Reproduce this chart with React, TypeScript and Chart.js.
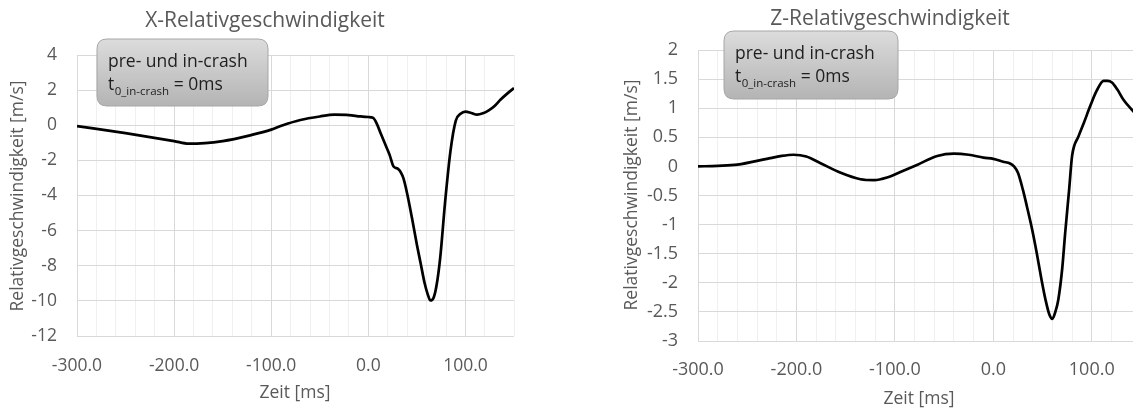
import React, { useEffect, useRef } from "react";
import { Chart, registerables } from "chart.js";

Chart.register(...registerables);

// ---------- data ----------
const xTimes = [-300, -250, -200, -185, -150, -120, -100, -88, -70, -50, -35, -20, -8, 0, 5, 9, 13, 17.5, 22, 26, 31, 36, 40, 45, 50, 54, 58, 61, 64, 67, 70, 74, 79, 84.5, 90, 95, 100, 106, 112, 118, 124, 130, 136, 143, 150];
const xValues = [-0.05, -0.45, -0.9, -1.05, -0.9, -0.55, -0.25, 0, 0.3, 0.5, 0.6, 0.58, 0.5, 0.47, 0.42, 0.05, -0.5, -1.1, -1.7, -2.35, -2.5, -3.0, -3.9, -5.3, -6.8, -7.9, -9.0, -9.6, -9.98, -9.85, -9.2, -7.55, -4.4, -1.5, 0.25, 0.65, 0.78, 0.7, 0.6, 0.68, 0.85, 1.1, 1.45, 1.8, 2.12];

const zTimes = [-300, -280, -260, -230, -215, -203, -190, -176, -155, -135, -121, -108, -95, -77, -57, -40, -25, -10, 0, 10, 17, 21, 25, 30, 34, 39, 44, 49, 53, 57, 60, 63, 66, 70, 73, 77, 80, 86.6, 92, 98.5, 105, 112, 116, 120.5, 126, 132, 142, 150];
const zValues = [0, 0.01, 0.03, 0.13, 0.18, 0.2, 0.17, 0.06, -0.11, -0.22, -0.235, -0.19, -0.1, 0.03, 0.18, 0.22, 0.2, 0.15, 0.13, 0.08, 0.05, 0, -0.11, -0.4, -0.68, -1.05, -1.48, -1.95, -2.29, -2.55, -2.62, -2.5, -2.29, -1.75, -1.14, -0.4, 0.18, 0.52, 0.75, 1.04, 1.3, 1.47, 1.47, 1.44, 1.32, 1.15, 0.95, 0.8];

const xTitle = "X-Relativgeschwindigkeit";
const zTitle = "Z-Relativgeschwindigkeit";
const yAxisTitle = "Relativgeschwindigkeit [m/s]";
const xAxisTitle = "Zeit [ms]";
const boxLine1 = "pre- und in-crash";
const boxSub = "0_in-crash";
const boxLine2 = " = 0ms";

const FONT = "'Open Sans', 'Noto Sans', sans-serif";
const TEXT = "#595959";
const MAJOR = "#d9d9d9";
const MINOR = "#f0f0f0";

type Deco = {
  title: { x: number; y: number; size: number };
  yTitle: { x: number; y: number };
  xTitle: { x: number; y: number };
  box: { x: number; y: number; w: number; h: number };
  chartTitle: string;
};

function decoPlugin(d: Deco) {
  return {
    id: "deco",
    afterDraw(chart: any) {
      const ctx = chart.ctx as CanvasRenderingContext2D;
      ctx.save();
      // chart title
      ctx.fillStyle = TEXT;
      ctx.textAlign = "center";
      ctx.textBaseline = "alphabetic";
      ctx.font = `${d.title.size}px ${FONT}`;
      ctx.fillText(d.chartTitle, d.title.x, d.title.y);
      // x axis title
      ctx.font = `17.5px ${FONT}`;
      ctx.fillText(xAxisTitle, d.xTitle.x, d.xTitle.y);
      // y axis title
      ctx.save();
      ctx.translate(d.yTitle.x, d.yTitle.y);
      ctx.rotate(-Math.PI / 2);
      ctx.fillText(yAxisTitle, 0, 0);
      ctx.restore();
      // annotation box
      const { x, y, w, h } = d.box;
      const r = 10;
      const g = ctx.createLinearGradient(0, y, 0, y + h);
      g.addColorStop(0, "#dcdcdc");
      g.addColorStop(1, "#b4b4b4");
      ctx.beginPath();
      ctx.moveTo(x + r, y);
      ctx.lineTo(x + w - r, y);
      ctx.quadraticCurveTo(x + w, y, x + w, y + r);
      ctx.lineTo(x + w, y + h - r);
      ctx.quadraticCurveTo(x + w, y + h, x + w - r, y + h);
      ctx.lineTo(x + r, y + h);
      ctx.quadraticCurveTo(x, y + h, x, y + h - r);
      ctx.lineTo(x, y + r);
      ctx.quadraticCurveTo(x, y, x + r, y);
      ctx.closePath();
      ctx.fillStyle = g;
      ctx.fill();
      ctx.strokeStyle = "#a6a6a6";
      ctx.lineWidth = 1;
      ctx.stroke();
      ctx.fillStyle = "#1e1e1e";
      ctx.textAlign = "left";
      ctx.font = `17.5px ${FONT}`;
      ctx.fillText(boxLine1, x + 11, y + 28);
      ctx.fillText("t", x + 11, y + 51);
      const tw = ctx.measureText("t").width;
      ctx.font = `11.5px ${FONT}`;
      ctx.fillText(boxSub, x + 11 + tw + 0.5, y + 56);
      const sw = ctx.measureText(boxSub).width;
      ctx.font = `17.5px ${FONT}`;
      ctx.fillText(boxLine2, x + 11 + tw + 0.5 + sw, y + 51);
      ctx.restore();
    },
  };
}

function makeConfig(
  times: number[],
  values: number[],
  yMin: number,
  yMax: number,
  yStep: number,
  yWidth: number,
  xHeight: number,
  pad: { top: number; right: number },
  tickSize: number,
  xTickPad: number,
  deco: Deco
): any {
  return {
    type: "line",
    data: {
      datasets: [
        {
          data: times.map((t, i) => ({ x: t, y: values[i] })),
          borderColor: "#000000",
          borderWidth: 2.7,
          pointRadius: 0,
          cubicInterpolationMode: "monotone",
          fill: false,
        },
      ],
    },
    options: {
      responsive: false,
      animation: false,
      layout: { padding: { top: pad.top, right: pad.right, left: 0, bottom: 0 } },
      plugins: { legend: { display: false }, tooltip: { enabled: false }, title: { display: false } },
      scales: {
        x: {
          type: "linear",
          min: -300,
          max: 150,
          afterFit: (s: any) => {
            s.height = xHeight;
          },
          border: { display: false },
          grid: {
            drawTicks: false,
            lineWidth: 1,
            color: (c: any) =>
              c.tick && Math.round(c.tick.value) % 100 === 0 ? MAJOR : MINOR,
          },
          ticks: {
            stepSize: 20,
            autoSkip: false,
            maxRotation: 0,
            padding: xTickPad,
            color: TEXT,
            font: { family: FONT, size: tickSize },
            callback: (v: number) => {
              const r = Math.round(v);
              return r % 100 === 0 ? r.toFixed(1) : "";
            },
          },
        },
        y: {
          type: "linear",
          min: yMin,
          max: yMax,
          afterFit: (s: any) => {
            s.width = yWidth;
          },
          border: { display: false },
          grid: { drawTicks: false, color: MAJOR, lineWidth: 1 },
          ticks: {
            stepSize: yStep,
            padding: 20,
            color: TEXT,
            font: { family: FONT, size: tickSize },
            callback: (v: number) => String(Math.round(v * 100) / 100),
          },
        },
      },
    },
    plugins: [decoPlugin(deco)],
  };
}

export default function App() {
  const leftRef = useRef<HTMLCanvasElement>(null);
  const rightRef = useRef<HTMLCanvasElement>(null);

  useEffect(() => {
    const left = new Chart(
      leftRef.current!,
      makeConfig(xTimes, xValues, -12, 4, 2, 77, 72, { top: 55, right: 46 }, 17.5, 20, {
        chartTitle: xTitle,
        title: { x: 265, y: 27, size: 21 },
        yTitle: { x: 23, y: 196 },
        xTitle: { x: 295, y: 398 },
        box: { x: 97, y: 39, w: 171, h: 67 },
      })
    );
    const right = new Chart(
      rightRef.current!,
      makeConfig(zTimes, zValues, -3, 2, 0.5, 98, 67, { top: 50, right: 19 }, 18, 18, {
        chartTitle: zTitle,
        title: { x: 290, y: 25, size: 21 },
        yTitle: { x: 37, y: 195 },
        xTitle: { x: 319, y: 404 },
        box: { x: 124, y: 31, w: 174, h: 68 },
      })
    );
    return () => {
      left.destroy();
      right.destroy();
    };
  }, []);

  return (
    <div
      style={{
        position: "fixed",
        left: 0,
        top: 0,
        width: 1133,
        height: 408,
        overflow: "hidden",
        background: "#ffffff",
      }}
    >
      <canvas
        ref={leftRef}
        width={560}
        height={408}
        style={{ position: "absolute", left: 0, top: 0, width: 560, height: 408 }}
      />
      <canvas
        ref={rightRef}
        width={560}
        height={408}
        style={{ position: "absolute", left: 600, top: 0, width: 560, height: 408 }}
      />
    </div>
  );
}
